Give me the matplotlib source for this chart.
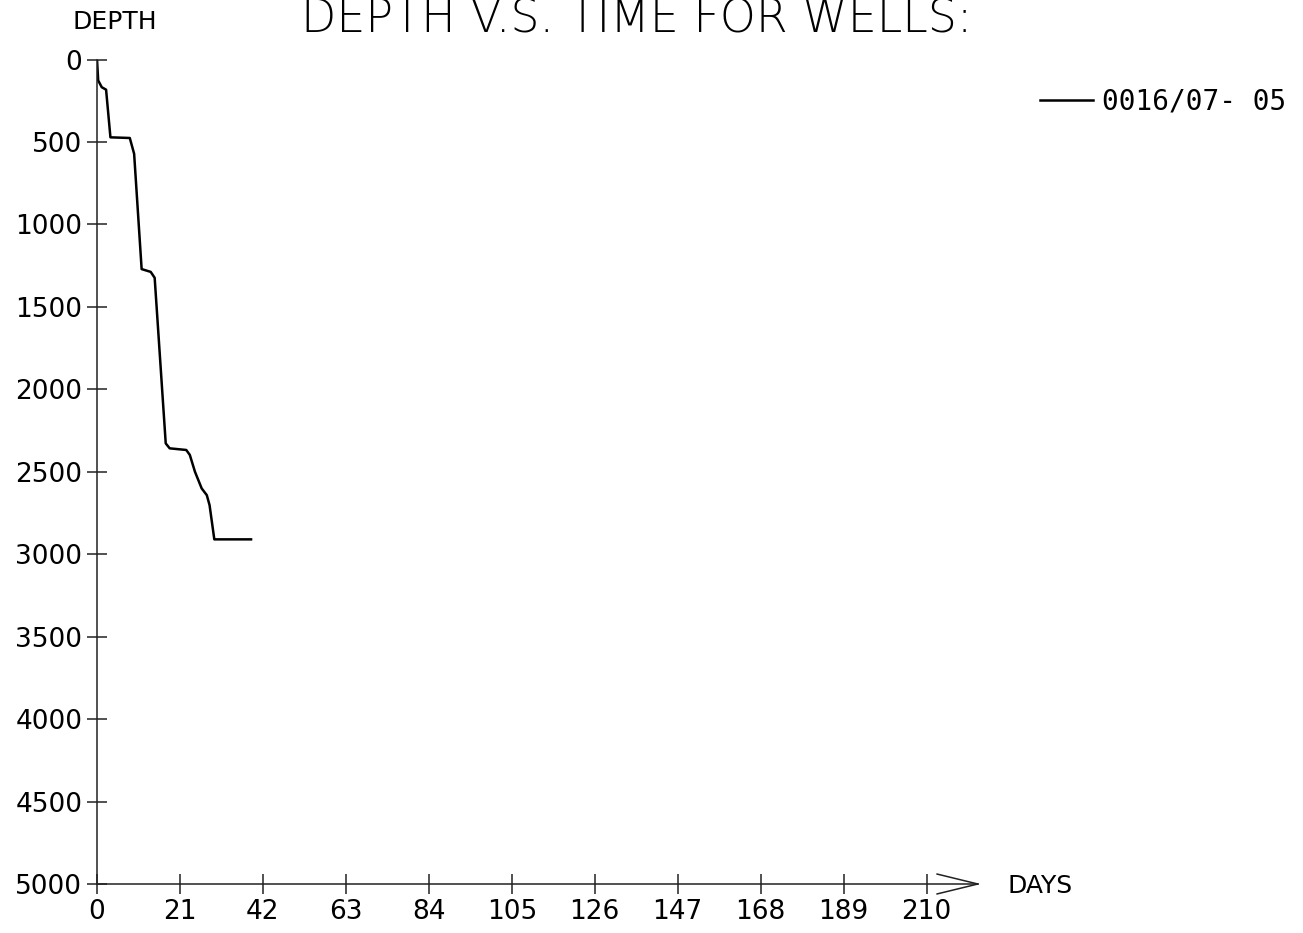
import matplotlib
matplotlib.use("Agg")
import matplotlib.pyplot as plt

# ---- data ----
days = [0, 0.3, 1.2, 2.3, 3.4, 8.3, 9.4, 11.3, 13.6, 14.6, 17.4, 18.4, 22.6,
        23.5, 24.8, 26.5, 27.8, 28.5, 29.7, 39.0]
depth = [0, 127, 168, 183, 472, 476, 572, 1271, 1288, 1324, 2328, 2358, 2368,
         2398, 2500, 2601, 2642, 2703, 2910, 2910]
well_label = "0016/07- 05"
x_ticks = [0, 21, 42, 63, 84, 105, 126, 147, 168, 189, 210]
y_ticks = [0, 500, 1000, 1500, 2000, 2500, 3000, 3500, 4000, 4500, 5000]
title = "DEPTH V.S. TIME FOR WELLS:"
y_title = "DEPTH"
x_title = "DAYS"

W, H = 1303, 933
plt.rcParams['font.family'] = ['DejaVu Sans']
fig = plt.figure(figsize=(W / 100, H / 100), dpi=100)
fig.patch.set_facecolor('white')

left_px, top_px, bottom_px = 97, 59.5, 884
x_max = 223
px_per_day = 3.95
right_px = left_px + x_max * px_per_day
ax = fig.add_axes([left_px / W, 1 - bottom_px / H,
                   (right_px - left_px) / W, (bottom_px - top_px) / H])
ax.set_facecolor('white')

line, = ax.plot(days, depth, color='black', lw=1.8, solid_joinstyle='round',
                label=well_label)

ax.set_xlim(0, x_max)
ax.set_ylim(5000, 0)
ax.set_xticks(x_ticks)
ax.set_yticks(y_ticks)
ax.set_xticklabels([str(v) for v in x_ticks])
ax.set_yticklabels([str(v) for v in y_ticks])

for s in ('top', 'right'):
    ax.spines[s].set_visible(False)
for s in ('left', 'bottom'):
    ax.spines[s].set_linewidth(1.1)
    ax.spines[s].set_color('#222222')

ax.tick_params(axis='both', direction='inout', length=15, width=1.1,
               color='#222222', labelsize=19, pad=3)

# arrow head at the end of the x axis
for dy in (10, -10):
    ax.annotate('', xy=(1, 0), xycoords='axes fraction',
                xytext=(-41, dy), textcoords='offset pixels',
                arrowprops=dict(arrowstyle='-', lw=1.1, color='#222222',
                                shrinkA=0, shrinkB=0),
                annotation_clip=False)

fig.text(636.5 / W, 1 - 32.5 / H, title, ha='center', va='baseline',
         fontsize=33, fontweight='light')
fig.text(115 / W, 1 - 29 / H, y_title, ha='center', va='baseline', fontsize=18)
fig.text(1008 / W, 1 - 893 / H, x_title, ha='left', va='baseline', fontsize=18)

fig.legend(handles=[line], loc='center left',
           bbox_to_anchor=(1040 / W, 1 - 102 / H), frameon=False,
           prop={'family': 'DejaVu Sans Mono', 'size': 20},
           handlelength=1.9, handletextpad=0.35,
           borderpad=0, borderaxespad=0)

fig.savefig('out.png', dpi=100, facecolor='white')
